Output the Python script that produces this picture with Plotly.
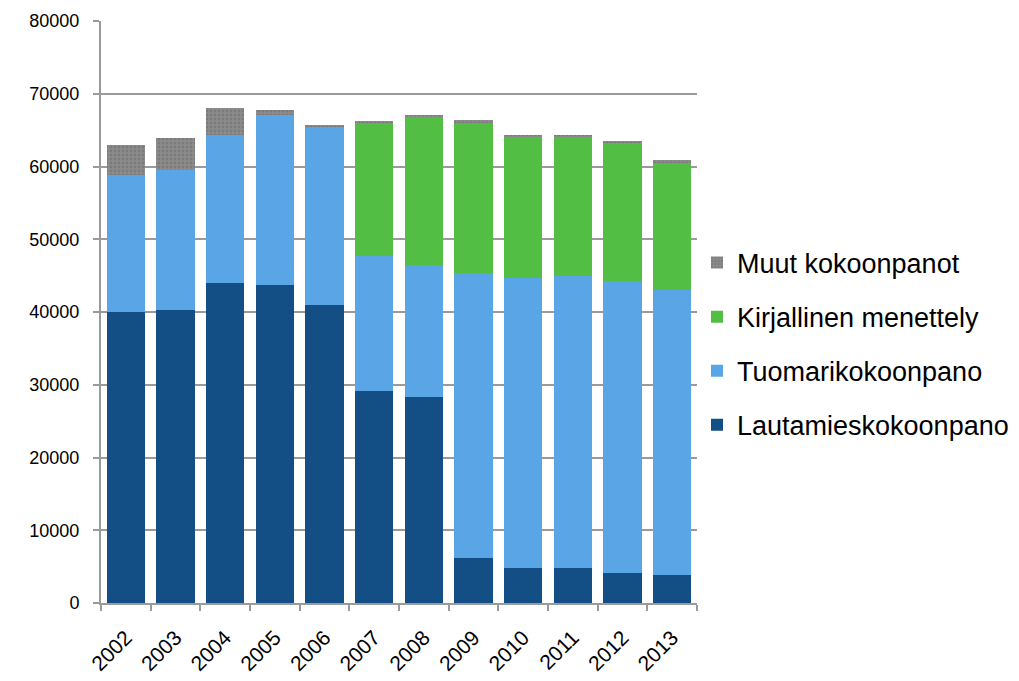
import plotly.graph_objects as go

years = ["2002", "2003", "2004", "2005", "2006", "2007", "2008", "2009", "2010", "2011", "2012", "2013"]
lautamies = [40000, 40300, 44000, 43700, 40900, 29200, 28300, 6200, 4800, 4800, 4100, 3800]
tuomari = [18800, 19200, 20300, 23400, 24500, 18500, 18100, 39100, 39900, 40200, 40200, 39200]
kirjallinen = [0, 0, 0, 0, 0, 18300, 20400, 20800, 19300, 19000, 19000, 17600]
muut = [4100, 4400, 3700, 600, 300, 300, 300, 250, 300, 300, 250, 250]

fig = go.Figure()
fig.add_bar(x=years, y=lautamies, name="Lautamieskokoonpano", marker_color="#134E84",
            marker_line_width=0, legendgroup="a", legendrank=4)
fig.add_bar(x=years, y=tuomari, name="Tuomarikokoonpano", marker_color="#5AA5E6",
            marker_line_width=0, legendgroup="b", legendrank=3)
fig.add_bar(x=years, y=kirjallinen, name="Kirjallinen menettely", marker_color="#52BE44",
            marker_line_width=0, legendgroup="c", legendrank=2)
fig.add_bar(x=years, y=muut, name="Muut kokoonpanot", legendgroup="d", legendrank=1,
            marker=dict(color="#858585", line_width=0,
                        pattern=dict(shape=".", fgcolor="#6a6a6a", bgcolor="#8c8c8c", size=4, solidity=0.4)))

fig.update_layout(
    barmode="stack",
    bargap=0.23,
    width=1019, height=681,
    margin=dict(l=93, r=330, t=13, b=86),
    paper_bgcolor="white", plot_bgcolor="white",
    font=dict(family="Liberation Sans, Arial, sans-serif", color="#000000"),
    legend=dict(traceorder="grouped", x=1.0, xanchor="left", y=0.445, yanchor="middle",
                font=dict(size=27), itemsizing="constant", tracegroupgap=16,
                bgcolor="rgba(0,0,0,0)"),
    showlegend=True,
)
fig.update_yaxes(range=[0, 80000], dtick=10000, tickformat="d", automargin=False,
                 showgrid=True, gridcolor="#9a9a9a", gridwidth=2,
                 showline=True, linecolor="#9a9a9a", linewidth=2,
                 ticks="outside", ticklen=6, tickcolor="#9a9a9a", tickwidth=2,
                 ticklabelstandoff=10, tickfont=dict(size=18), zeroline=False)
fig.update_xaxes(showline=True, linecolor="#9a9a9a", linewidth=2, automargin=False,
                 ticks="outside", ticklen=6, tickcolor="#9a9a9a", tickwidth=2,
                 ticklabelstandoff=12,
                 tickson="boundaries", tickangle=-45, tickfont=dict(size=21))

fig.write_html("out.html")
